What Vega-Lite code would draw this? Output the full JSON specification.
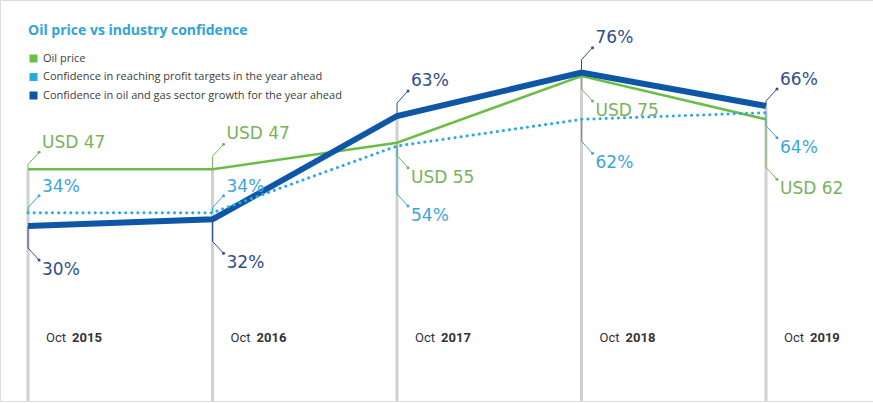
{
  "$schema": "https://vega.github.io/schema/vega-lite/v6.json",
  "width": 873,
  "height": 403,
  "autosize": {"type": "fit", "contains": "padding"},
  "padding": 0,
  "background": "white",
  "data": {
    "values": [
      {"series": "Oil price", "year": 2015, "value": 47, "label": "USD 47"},
      {"series": "Oil price", "year": 2016, "value": 47, "label": "USD 47"},
      {"series": "Oil price", "year": 2017, "value": 55, "label": "USD 55"},
      {"series": "Oil price", "year": 2018, "value": 75, "label": "USD 75"},
      {"series": "Oil price", "year": 2019, "value": 62, "label": "USD 62"},
      {"series": "Confidence in reaching profit targets in the year ahead", "year": 2015, "value": 34, "label": "34%"},
      {"series": "Confidence in reaching profit targets in the year ahead", "year": 2016, "value": 34, "label": "34%"},
      {"series": "Confidence in reaching profit targets in the year ahead", "year": 2017, "value": 54, "label": "54%"},
      {"series": "Confidence in reaching profit targets in the year ahead", "year": 2018, "value": 62, "label": "62%"},
      {"series": "Confidence in reaching profit targets in the year ahead", "year": 2019, "value": 64, "label": "64%"},
      {"series": "Confidence in oil and gas sector growth for the year ahead", "year": 2015, "value": 30, "label": "30%"},
      {"series": "Confidence in oil and gas sector growth for the year ahead", "year": 2016, "value": 32, "label": "32%"},
      {"series": "Confidence in oil and gas sector growth for the year ahead", "year": 2017, "value": 63, "label": "63%"},
      {"series": "Confidence in oil and gas sector growth for the year ahead", "year": 2018, "value": 76, "label": "76%"},
      {"series": "Confidence in oil and gas sector growth for the year ahead", "year": 2019, "value": 66, "label": "66%"}
    ]
  },
  "encoding": {
    "x": {"field": "year", "type": "quantitative", "scale": {"domain": [2014.848, 2019.58], "nice": false, "zero": false}, "axis": null},
    "y": {"field": "value", "type": "quantitative", "scale": {"domain": [-22.5, 97.8], "nice": false, "zero": false}, "axis": null}
  },
  "layer": [
    {
      "transform": [{"aggregate": [{"op": "max", "field": "value", "as": "top"}], "groupby": ["year"]}],
      "mark": {"type": "rule", "color": "#d0d0d0", "strokeWidth": 3},
      "encoding": {
        "y": {"field": "top", "type": "quantitative", "scale": {"domain": [-22.5, 97.8], "nice": false, "zero": false}, "axis": null},
        "y2": {"datum": -22.5}
      }
    },
    {
      "transform": [{"filter": "datum.series === 'Oil price'"}],
      "layer": [
        {
          "mark": {"type": "text", "align": "left", "baseline": "middle", "dx": 18, "font": "Roboto", "fontSize": 13, "color": "#333333"},
          "encoding": {"y": {"datum": -3.6}, "text": {"value": "Oct"}}
        },
        {
          "mark": {"type": "text", "align": "left", "baseline": "middle", "dx": 44, "font": "Roboto", "fontSize": 13, "fontWeight": "bold", "color": "#333333"},
          "encoding": {"y": {"datum": -3.6}, "text": {"field": "year", "type": "ordinal"}}
        }
      ]
    },
    {
      "encoding": {
        "color": {
          "field": "series",
          "type": "nominal",
          "scale": {
            "domain": ["Oil price", "Confidence in reaching profit targets in the year ahead", "Confidence in oil and gas sector growth for the year ahead"],
            "range": ["#6abd45", "#27aae1", "#0d57a6"]
          },
          "legend": {
            "orient": "none",
            "legendX": 28,
            "legendY": 24,
            "title": "Oil price vs industry confidence",
            "titleColor": "#2fa4d9",
            "titleFont": "Open Sans",
            "titleFontSize": 14,
            "titleFontWeight": "bold",
            "titleLimit": 400,
            "titlePadding": 15,
            "labelFont": "Open Sans",
            "labelFontSize": 11,
            "labelColor": "#3c3c3c",
            "labelLimit": 400,
            "labelOffset": 4,
            "symbolType": "square",
            "symbolSize": 64,
            "symbolStrokeWidth": 0,
            "rowPadding": 6.5,
            "encode": {"symbols": {"update": {"fill": {"scale": "color", "field": "value"}, "stroke": {"value": "transparent"}}}}
          }
        }
      },
      "layer": [
        {
          "transform": [{"filter": "datum.series === 'Oil price'"}],
          "mark": {"type": "line", "strokeWidth": 2.5}
        },
        {
          "transform": [{"filter": "datum.series === 'Confidence in oil and gas sector growth for the year ahead'"}],
          "mark": {"type": "line", "strokeWidth": 6}
        },
        {
          "transform": [{"filter": "datum.series === 'Confidence in reaching profit targets in the year ahead'"}],
          "mark": {"type": "line", "strokeWidth": 3, "strokeDash": [0.1, 6], "strokeCap": "round"}
        }
      ]
    },
    {
      "encoding": {
        "color": {
          "condition": [
            {"test": "datum.series === 'Oil price'", "value": "#78b35a"},
            {"test": "datum.series === 'Confidence in reaching profit targets in the year ahead'", "value": "#3ba6da"}
          ],
          "value": "#2e4f88"
        }
      },
      "layer": [
        {
          "transform": [{"filter": "indexof(['2015 USD 47', '2015 34%', '2016 34%', '2019 66%'], datum.year + ' ' + datum.label) >= 0"}],
          "layer": [
            {"mark": {"type": "rule", "strokeWidth": 1, "y2Offset": -5}, "encoding": {"y2": {"field": "value"}}},
            {"mark": {"type": "rule", "strokeWidth": 1, "yOffset": -5, "x2Offset": 11, "y2Offset": -17}, "encoding": {"x2": {"field": "year"}, "y2": {"field": "value"}}},
            {"mark": {"type": "point", "filled": true, "size": 9, "opacity": 1, "xOffset": 11, "yOffset": -17}},
            {"mark": {"type": "text", "align": "left", "baseline": "middle", "dx": 14, "dy": -26, "font": "DejaVu Sans", "fontSize": 17}, "encoding": {"text": {"field": "label"}}}
          ]
        },
        {
          "transform": [{"filter": "indexof(['2016 USD 47', '2017 63%', '2018 76%'], datum.year + ' ' + datum.label) >= 0"}],
          "layer": [
            {"mark": {"type": "rule", "strokeWidth": 1, "y2Offset": -13}, "encoding": {"y2": {"field": "value"}}},
            {"mark": {"type": "rule", "strokeWidth": 1, "yOffset": -13, "x2Offset": 11, "y2Offset": -25}, "encoding": {"x2": {"field": "year"}, "y2": {"field": "value"}}},
            {"mark": {"type": "point", "filled": true, "size": 9, "opacity": 1, "xOffset": 11, "yOffset": -25}},
            {"mark": {"type": "text", "align": "left", "baseline": "middle", "dx": 14, "dy": -35, "font": "DejaVu Sans", "fontSize": 17}, "encoding": {"text": {"field": "label"}}}
          ]
        },
        {
          "transform": [{"filter": "indexof(['2017 USD 55', '2018 USD 75', '2019 64%'], datum.year + ' ' + datum.label) >= 0"}],
          "layer": [
            {"mark": {"type": "rule", "strokeWidth": 1, "y2Offset": 13}, "encoding": {"y2": {"field": "value"}}},
            {"mark": {"type": "rule", "strokeWidth": 1, "yOffset": 13, "x2Offset": 11, "y2Offset": 25}, "encoding": {"x2": {"field": "year"}, "y2": {"field": "value"}}},
            {"mark": {"type": "point", "filled": true, "size": 9, "opacity": 1, "xOffset": 11, "yOffset": 25}},
            {"mark": {"type": "text", "align": "left", "baseline": "middle", "dx": 14, "dy": 35, "font": "DejaVu Sans", "fontSize": 17}, "encoding": {"text": {"field": "label"}}}
          ]
        },
        {
          "transform": [{"filter": "indexof(['2015 30%', '2016 32%', '2018 62%'], datum.year + ' ' + datum.label) >= 0"}],
          "layer": [
            {"mark": {"type": "rule", "strokeWidth": 1, "y2Offset": 22}, "encoding": {"y2": {"field": "value"}}},
            {"mark": {"type": "rule", "strokeWidth": 1, "yOffset": 22, "x2Offset": 11, "y2Offset": 34}, "encoding": {"x2": {"field": "year"}, "y2": {"field": "value"}}},
            {"mark": {"type": "point", "filled": true, "size": 9, "opacity": 1, "xOffset": 11, "yOffset": 34}},
            {"mark": {"type": "text", "align": "left", "baseline": "middle", "dx": 14, "dy": 44, "font": "DejaVu Sans", "fontSize": 17}, "encoding": {"text": {"field": "label"}}}
          ]
        },
        {
          "transform": [{"filter": "indexof(['2017 54%', '2019 USD 62'], datum.year + ' ' + datum.label) >= 0"}],
          "layer": [
            {"mark": {"type": "rule", "strokeWidth": 1, "y2Offset": 48}, "encoding": {"y2": {"field": "value"}}},
            {"mark": {"type": "rule", "strokeWidth": 1, "yOffset": 48, "x2Offset": 11, "y2Offset": 60}, "encoding": {"x2": {"field": "year"}, "y2": {"field": "value"}}},
            {"mark": {"type": "point", "filled": true, "size": 9, "opacity": 1, "xOffset": 11, "yOffset": 60}},
            {"mark": {"type": "text", "align": "left", "baseline": "middle", "dx": 14, "dy": 70, "font": "DejaVu Sans", "fontSize": 17}, "encoding": {"text": {"field": "label"}}}
          ]
        }
      ]
    }
  ]
}
